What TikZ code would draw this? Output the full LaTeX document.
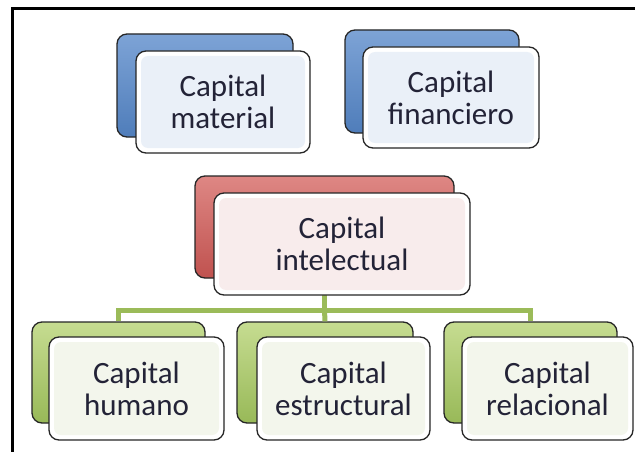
\documentclass[tikz,border=0pt]{standalone}
\usepackage{fontspec}
\setmainfont{Carlito}
\definecolor{txt}{RGB}{35,35,55}
\definecolor{blueT}{RGB}{125,163,214}
\definecolor{blueB}{RGB}{79,125,186}
\definecolor{redT}{RGB}{222,135,132}
\definecolor{redB}{RGB}{192,82,79}
\definecolor{greenT}{RGB}{198,220,145}
\definecolor{greenB}{RGB}{152,185,88}
\definecolor{tintB}{RGB}{234,240,248}
\definecolor{tintR}{RGB}{248,236,236}
\definecolor{tintG}{RGB}{243,246,236}
\definecolor{conn}{RGB}{155,187,89}
\tikzset{
  backbox/.style={draw=black!85, line width=1.3pt, rounded corners=10pt, top color=#1T, bottom color=#1B, inner sep=0pt},
  frontbox/.style={draw=black!85, line width=1.3pt, rounded corners=10pt, fill=white, inner sep=0pt,
    path picture={\fill[#1, rounded corners=7pt] ([shift={(5pt,-5pt)}]path picture bounding box.north west) rectangle ([shift={(-5pt,5pt)}]path picture bounding box.south east);},
    text=txt, align=center, font=\fontsize{31}{32}\selectfont},
  link/.style={draw=conn, line width=5pt}
}
\begin{document}
\begin{tikzpicture}[x=1pt,y=-1pt]
\useasboundingbox (0,0) rectangle (635,452);
\fill[white] (0,0) rectangle (635,452);
\draw[line width=3pt] (12,452) -- (12,9) -- (635,9);
\coordinate (hub) at (324.5,310);
\coordinate (hl) at (118.5,310);
\coordinate (hr) at (530.5,310);
% back boxes
\node[backbox=blue, minimum width=176pt, minimum height=103pt] (matB) at (205,85.5) {};
\node[backbox=blue, minimum width=174pt, minimum height=103pt] (finB) at (432,81.5) {};
\node[backbox=red, minimum width=259pt, minimum height=102pt] (intB) at (324.5,227) {};
\node[backbox=green, minimum width=173pt, minimum height=101pt] (humB) at (118.5,372.5) {};
\node[backbox=green, minimum width=176pt, minimum height=101pt] (estB) at (325,372.5) {};
\node[backbox=green, minimum width=173pt, minimum height=101pt] (relB) at (530.5,372.5) {};
% connectors
\draw[link] (intB.south) -- (hub);
\draw[link, line join=miter] (humB.north) -- (hl) -- (hr) -- (relB.north);
\draw[link] (hub) -- (estB.north);
% front boxes
\node[frontbox=tintB, minimum width=174pt, minimum height=102pt] (matF) at (223,102) {Capital\\material};
\node[frontbox=tintB, minimum width=176pt, minimum height=101pt] (finF) at (451,97.5) {Capital\\financiero};
\node[frontbox=tintR, minimum width=256pt, minimum height=102pt] (intF) at (342,244) {Capital\\intelectual};
\node[frontbox=tintG, minimum width=175pt, minimum height=103pt] (humF) at (136.5,388.5) {Capital\\humano};
\node[frontbox=tintG, minimum width=173pt, minimum height=103pt] (estF) at (343.5,388.5) {Capital\\estructural};
\node[frontbox=tintG, minimum width=171pt, minimum height=103pt] (relF) at (547.5,388.5) {Capital\\relacional};
\end{tikzpicture}
\end{document}
